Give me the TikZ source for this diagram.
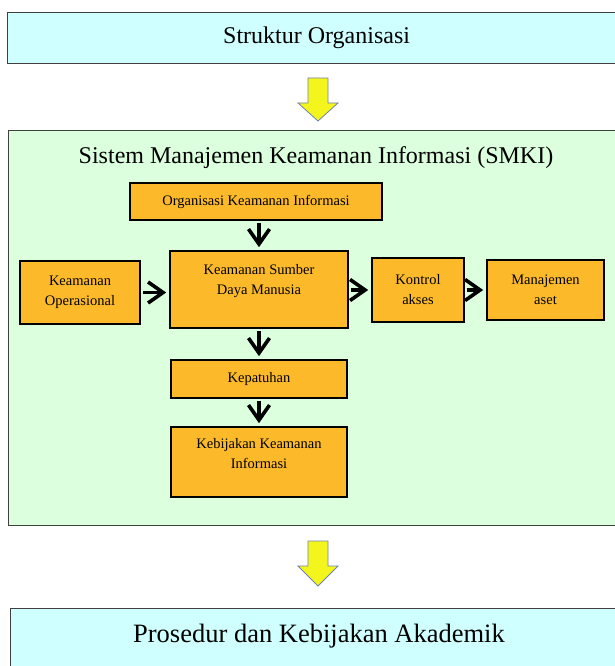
\documentclass[tikz,border=0pt]{standalone}
\usepackage{fontspec}
\setmainfont{Liberation Serif}
\usetikzlibrary{arrows.meta,positioning}

\definecolor{cyanbox}{RGB}{208,255,255}
\definecolor{greenbox}{RGB}{220,255,222}
\definecolor{orangebox}{RGB}{252,186,42}
\definecolor{yellowarr}{RGB}{245,245,30}
\definecolor{arrline}{RGB}{110,130,175}

\begin{document}
\begin{tikzpicture}[x=1pt,y=-1pt,>={Straight Barb[length=15pt,width=21pt]},
  bigbox/.style={draw=black!75,line width=1.2pt,font=\fontsize{24}{28}\selectfont},
  obox/.style={draw,line width=1.6pt,fill=orangebox,align=center,font=\fontsize{14.5}{20}\selectfont},
  otext/.style={align=center,font=\fontsize{14.5}{20}\selectfont},
  flow/.style={->,line width=3.6pt,shorten <=2pt,shorten >=3pt},
  yarrow/.style={fill=yellowarr,draw=arrline,line width=0.8pt}]
\useasboundingbox (0,0) rectangle (615,666);
% outer boxes
\node[bigbox,fill=cyanbox,minimum width=618pt,minimum height=51pt,anchor=north west] (struktur) at (7,12) {Struktur Organisasi};
\node[bigbox,fill=greenbox,minimum width=620pt,minimum height=395pt,anchor=north west] (smki) at (8,130) {};
\node[font=\fontsize{24}{28}\selectfont] (judul) at (316,158) {Sistem Manajemen Keamanan Informasi (SMKI)};
\node[bigbox,fill=cyanbox,minimum width=620pt,minimum height=80pt,anchor=north west] (prosedur) at (10,608) {};
\node[font=\fontsize{26.5}{30}\selectfont,anchor=base] (prosedurtext) at (319,642) {Prosedur dan Kebijakan Akademik};
% yellow block arrows
\coordinate (panah1) at (318,78);
\coordinate (panah2) at (318,541);
\draw[yarrow] (panah1) ++(-10,0) -- ++(20,0) -- ++(0,25) -- ++(10,0) -- ++(-20,18) -- ++(-20,-18) -- ++(10,0) -- cycle;
\draw[yarrow] (panah2) ++(-10,0) -- ++(20,0) -- ++(0,25) -- ++(10,0) -- ++(-20,20) -- ++(-20,-20) -- ++(10,0) -- cycle;
% SMKI components
\node[obox,minimum width=252pt,minimum height=37pt] (org) at (256,201.5) {Organisasi Keamanan Informasi};
\node[obox,minimum width=120pt,minimum height=63pt] (ops) at (80,292.5) {Keamanan\\Operasional};
\node[obox,minimum width=178pt,minimum height=77pt] (sdm) at (259,289.5) {};
\node[otext,below=11pt of sdm.north] (sdmtext) {Keamanan Sumber\\Daya Manusia};
\node[obox,minimum width=92pt,minimum height=64pt] (kontrol) at (418,290) {Kontrol\\akses};
\node[obox,minimum width=117pt,minimum height=60pt] (aset) at (545.5,290) {Manajemen\\aset};
\node[obox,minimum width=176pt,minimum height=38pt] (patuh) at (259,379) {Kepatuhan};
\node[obox,minimum width=176pt,minimum height=70pt] (bijak) at (259,462) {};
\node[otext,below=9pt of bijak.north] (bijaktext) {Kebijakan Keamanan\\Informasi};
% arrows
\draw[flow] (org.south -| sdm) -- (sdm.north);
\draw[flow] (ops.east) -- (ops.east -| sdm.west);
\draw[flow] (sdm.east |- kontrol) -- (kontrol.west);
\draw[flow] (kontrol) -- (aset);
\draw[flow] (sdm) -- (patuh);
\draw[flow] (patuh) -- (bijak);
\end{tikzpicture}
\end{document}
